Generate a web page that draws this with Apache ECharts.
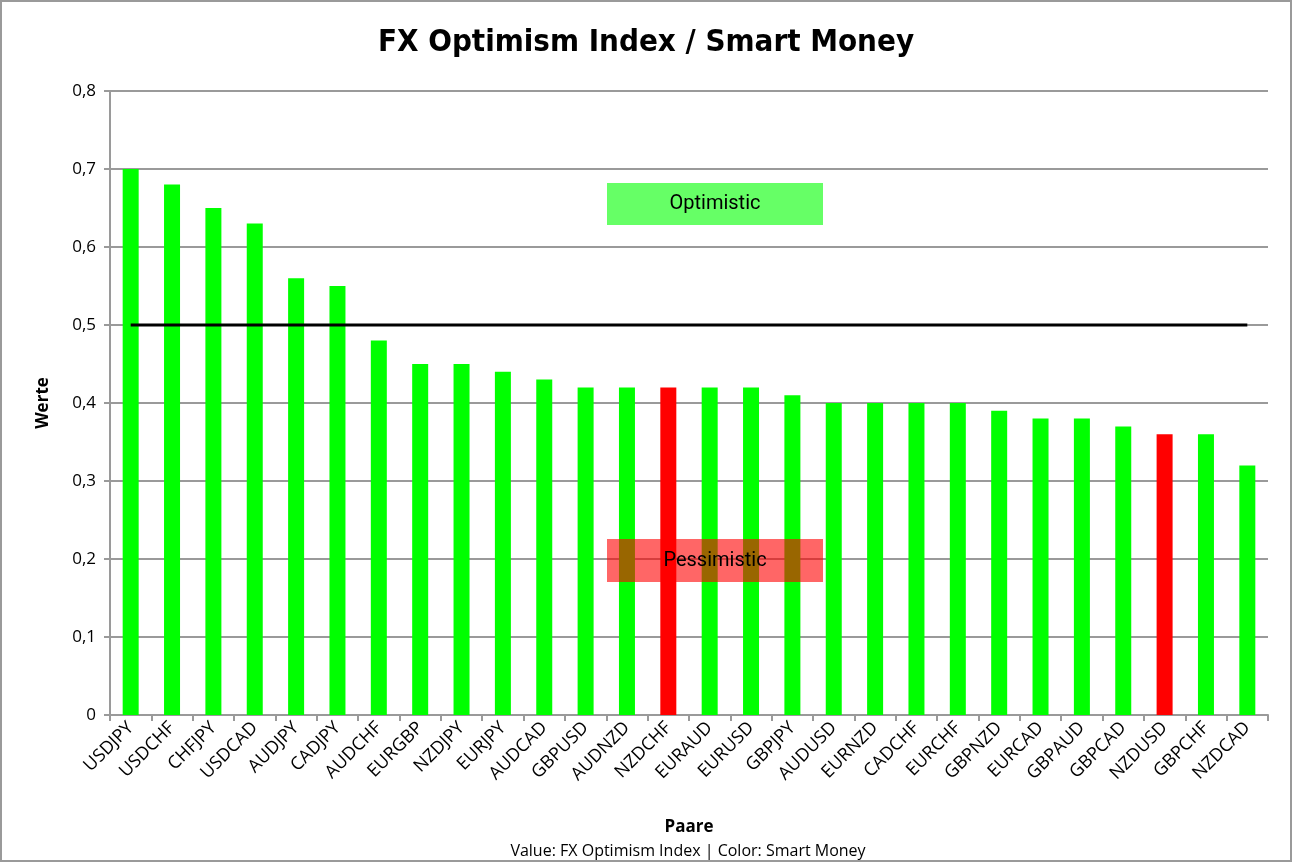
<!DOCTYPE html>
<html><head><meta charset="utf-8">
<script src="https://cdn.jsdelivr.net/npm/echarts@6/dist/echarts.min.js"></script>
<style>
html,body{margin:0;padding:0;background:#fff;}
#c{width:1292px;height:862px;box-sizing:border-box;border:2px solid #9a9a9a;}
</style></head>
<body><div id="c"></div>
<script>
const categories = ['USDJPY','USDCHF','CHFJPY','USDCAD','AUDJPY','CADJPY','AUDCHF','EURGBP','NZDJPY','EURJPY','AUDCAD','GBPUSD','AUDNZD','NZDCHF','EURAUD','EURUSD','GBPJPY','AUDUSD','EURNZD','CADCHF','EURCHF','GBPNZD','EURCAD','GBPAUD','GBPCAD','NZDUSD','GBPCHF','NZDCAD'];
const optimismIndex = [0.70,0.68,0.65,0.63,0.56,0.55,0.48,0.45,0.45,0.44,0.43,0.42,0.42,0.42,0.42,0.42,0.41,0.40,0.40,0.40,0.40,0.39,0.38,0.38,0.37,0.36,0.36,0.32];
const smartMoney = ['pos','pos','pos','pos','pos','pos','pos','pos','pos','pos','pos','pos','pos','neg','pos','pos','pos','pos','pos','pos','pos','pos','pos','pos','pos','neg','pos','pos'];
const threshold = [0.5,0.5,0.5,0.5,0.5,0.5,0.5,0.5,0.5,0.5,0.5,0.5,0.5,0.5,0.5,0.5,0.5,0.5,0.5,0.5,0.5,0.5,0.5,0.5,0.5,0.5,0.5,0.5];
const yTicks = [0,0.1,0.2,0.3,0.4,0.5,0.6,0.7,0.8];

const chart = echarts.init(document.getElementById('c'));
const txtFont = '"Open Sans", "Liberation Sans", sans-serif';
chart.setOption({
  animation:false,
  title:{text:'FX Optimism Index / Smart Money',left:'center',top:20,
    textStyle:{fontFamily:'"DejaVu Sans Condensed","Liberation Sans Narrow",sans-serif',fontWeight:'bold',fontSize:31,color:'#000'}},
  grid:{left:108,right:22,top:89,bottom:145},
  xAxis:{type:'category',data:categories,
    name:'Paare',nameLocation:'middle',nameGap:104,
    nameTextStyle:{fontFamily:txtFont,fontWeight:'bold',fontSize:17,color:'#000'},
    axisLine:{lineStyle:{color:'#9a9a9a',width:2}},
    axisTick:{show:true,length:6,lineStyle:{color:'#9a9a9a',width:2},alignWithLabel:false},
    axisLabel:{rotate:45,interval:0,margin:10,fontFamily:txtFont,fontSize:18,color:'#000'}},
  yAxis:{type:'value',min:0,max:0.8,interval:0.1,
    name:'Werte',nameLocation:'middle',nameGap:58,nameRotate:90,
    nameTextStyle:{fontFamily:txtFont,fontWeight:'bold',fontSize:17,color:'#000'},
    axisLine:{show:true,lineStyle:{color:'#9a9a9a',width:2}},
    axisTick:{show:true,length:6,lineStyle:{color:'#9a9a9a',width:2}},
    splitLine:{lineStyle:{color:'#9a9a9a',width:2}},
    axisLabel:{margin:14,fontFamily:txtFont,fontSize:17,color:'#000',
      formatter:v=>{const t=yTicks.find(x=>Math.abs(x-v)<1e-9);return (t===0?'0':String(+v.toFixed(1)).replace('.',','));}}},
  series:[
    {type:'bar',barWidth:16,z:2,
     data:optimismIndex.map((v,i)=>({value:v,itemStyle:{color:smartMoney[i]==='neg'?'#ff0000':'#00ff00'}}))},
    {type:'line',data:threshold,symbol:'none',z:3,lineStyle:{color:'#000',width:3},silent:true}
  ],
  graphic:[
    {type:'rect',z:100,shape:{x:605,y:181,width:216,height:42},style:{fill:'#66ff66'}},
    {type:'text',z:101,style:{x:713,y:202,text:'Optimistic',textAlign:'center',textVerticalAlign:'middle',font:'20px Roboto',fill:'#000'}},
    {type:'rect',z:100,shape:{x:605,y:537,width:216,height:43},style:{fill:'rgba(255,0,0,0.6)'}},
    {type:'text',z:101,style:{x:713,y:559,text:'Pessimistic',textAlign:'center',textVerticalAlign:'middle',font:'20px Roboto',fill:'#000'}},
    {type:'text',z:101,style:{x:686,y:849,text:'Value: FX Optimism Index | Color: Smart Money',textAlign:'center',textVerticalAlign:'middle',font:'16px "Open Sans", "Liberation Sans", sans-serif',fill:'#000'}}
  ]
});
</script></body></html>
